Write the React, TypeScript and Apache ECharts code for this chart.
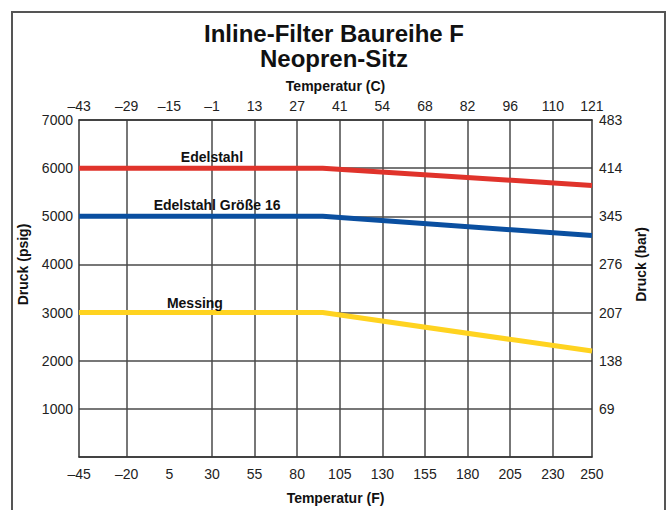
import React, { useEffect, useRef } from "react";
import * as echarts from "echarts";

// Bottom axis (°F) tick labels and matching top axis (°C) labels
const fLabels = [-45, -20, 5, 30, 55, 80, 105, 130, 155, 180, 205, 230, 250];
const cLabels = ["–43", "–29", "–15", "–1", "13", "27", "41", "54", "68", "82", "96", "110", "121"];
// vertical grid lines drawn in the reference (none at 5 °F)
const fGridLines = [-20, 30, 55, 80, 105, 130, 155, 180, 205, 230];
// right axis (bar) labels for 0..7000 psig
const barLabels = ["", "69", "138", "207", "276", "345", "414", "483"];

// series (x in °F, y in psig)
const tempF = [-48, 95, 253];
const edelstahl = [6000, 6000, 5640];
const edelstahl16 = [5000, 5000, 4600];
const messing = [3000, 3000, 2200];

const FONT = "Liberation Sans, Arial, sans-serif";

function pairs(ys: number[]) {
  return ys.map((y, i) => [tempF[i], y]);
}

function edgeLabel(v: number, text: string) {
  if (v === fLabels[0]) return "{l|" + text + "}";
  if (v === fLabels[fLabels.length - 1]) return "{r|" + text + "}";
  return text;
}

const richEdges = {
  l: { fontFamily: FONT, fontSize: 14, color: "#222", padding: [0, 10, 0, 0] },
  r: { fontFamily: FONT, fontSize: 14, color: "#222", padding: [0, 0, 0, 10] },
};

const nameStyle = { fontFamily: FONT, fontSize: 14, fontWeight: "bold", color: "#111" };

export default function App() {
  const ref = useRef<HTMLDivElement>(null);
  useEffect(() => {
    if (!ref.current) return;
    const chart = echarts.init(ref.current, undefined, { renderer: "svg" });
    const lineLabel = (text: string, x: number, y: number, dist: number) => ({
      symbol: "circle",
      symbolSize: 0,
      silent: true,
      data: [
        {
          coord: [x, y],
          label: {
            show: true,
            formatter: text,
            position: "top",
            distance: dist,
            fontFamily: FONT,
            fontSize: 14,
            fontWeight: "bold",
            color: "#111",
          },
        },
      ],
    });
    chart.setOption({
      animation: false,
      backgroundColor: "#fff",
      textStyle: { fontFamily: FONT },
      title: {
        text: "Inline-Filter Baureihe F\nNeopren-Sitz",
        left: "center",
        top: 16,
        textStyle: {
          fontFamily: FONT,
          fontSize: 24,
          fontWeight: "bold",
          color: "#111",
          lineHeight: 25,
        },
      },
      graphic: [
        {
          type: "rect",
          shape: { x: 12, y: 12, width: 653, height: 520 },
          style: { fill: "none", stroke: "#555", lineWidth: 2 },
          silent: true,
        },
      ],
      grid: { left: 79, right: 76, top: 120, bottom: 50, containLabel: false },
      xAxis: [
        {
          type: "value",
          position: "bottom",
          min: -48,
          max: 253,
          name: "Temperatur (F)",
          nameLocation: "middle",
          nameGap: 34,
          nameTextStyle: nameStyle,
          axisLine: { show: true, onZero: false, lineStyle: { color: "#333", width: 1.5 } },
          axisTick: { show: false, customValues: fGridLines },
          splitLine: { show: true, lineStyle: { color: "#4a4a4a", width: 1.5 } },
          axisLabel: {
            customValues: fLabels,
            margin: 10,
            fontFamily: FONT,
            fontSize: 14,
            color: "#222",
            formatter: (v: number) => edgeLabel(v, String(v).replace("-", "–")),
            rich: richEdges,
          },
        },
        {
          type: "value",
          position: "top",
          min: -48,
          max: 253,
          name: "Temperatur (C)",
          nameLocation: "middle",
          nameGap: 27,
          nameTextStyle: nameStyle,
          axisLine: { show: true, onZero: false, lineStyle: { color: "#333", width: 1.5 } },
          axisTick: { show: false },
          splitLine: { show: false },
          axisLabel: {
            customValues: fLabels,
            margin: 7,
            fontFamily: FONT,
            fontSize: 14,
            color: "#222",
            formatter: (v: number) => edgeLabel(v, cLabels[fLabels.indexOf(v)] ?? ""),
            rich: richEdges,
          },
        },
      ],
      yAxis: [
        {
          type: "value",
          position: "left",
          min: 0,
          max: 7000,
          interval: 1000,
          name: "Druck (psig)",
          nameLocation: "middle",
          nameGap: 49,
          nameRotate: 90,
          nameTextStyle: { ...nameStyle, padding: [0, 0, 0, 48] },
          axisLine: { show: true, onZero: false, lineStyle: { color: "#333", width: 1.5 } },
          axisTick: { show: false },
          splitLine: { show: true, lineStyle: { color: "#4a4a4a", width: 1.5 } },
          axisLabel: {
            margin: 6,
            fontFamily: FONT,
            fontSize: 14,
            color: "#222",
            formatter: (v: number) => (v === 0 ? "" : String(v)),
          },
        },
        {
          type: "value",
          position: "right",
          min: 0,
          max: 7000,
          interval: 1000,
          name: "Druck (bar)",
          nameLocation: "middle",
          nameGap: 42,
          nameRotate: 90,
          nameTextStyle: { ...nameStyle, padding: [0, 0, 0, 48] },
          axisLine: { show: true, onZero: false, lineStyle: { color: "#333", width: 1.5 } },
          axisTick: { show: false },
          splitLine: { show: false },
          axisLabel: {
            margin: 7,
            fontFamily: FONT,
            fontSize: 14,
            color: "#222",
            formatter: (v: number) => barLabels[Math.round(v / 1000)] ?? "",
          },
        },
      ],
      series: [
        {
          name: "Edelstahl",
          type: "line",
          data: pairs(edelstahl),
          showSymbol: false,
          symbol: "none",
          lineStyle: { color: "#e0332b", width: 5 },
          markPoint: lineLabel("Edelstahl", 30, 6000, 4),
        },
        {
          name: "Edelstahl Größe 16",
          type: "line",
          data: pairs(edelstahl16),
          showSymbol: false,
          symbol: "none",
          lineStyle: { color: "#0a4fa0", width: 5 },
          markPoint: lineLabel("Edelstahl Größe 16", 33, 5000, 4),
        },
        {
          name: "Messing",
          type: "line",
          data: pairs(messing),
          showSymbol: false,
          symbol: "none",
          lineStyle: { color: "#ffd320", width: 5 },
          markPoint: lineLabel("Messing", 20, 3000, 3),
        },
      ],
    });
    return () => chart.dispose();
  }, []);
  return (
    <div
      ref={ref}
      style={{ position: "absolute", left: 0, top: 0, width: 668, height: 510 }}
    />
  );
}
